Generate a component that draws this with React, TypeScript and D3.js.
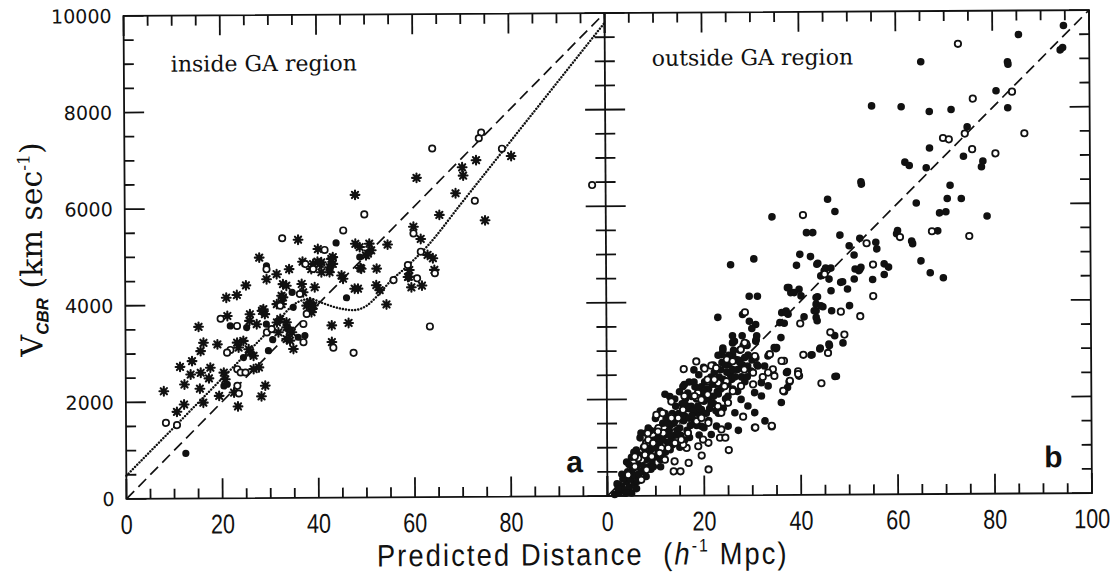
import React from "react";
import * as d3 from "d3";

type P = [number, number];

// ---------- Panel a : inside GA region ----------
const aStars: P[] = [
  [80.4,7051],[73.1,6969],[70.2,6824],[70.4,6652],[60.7,6611],[68.8,6287],[65.4,5841],[74.9,5723],[47.9,6266],
  [60.0,5599],[61.5,5345],[62.9,5014],[64.0,4944],[36.0,5345],[40.1,5150],[47.9,5254],[48.8,5185],[50.8,5254],
  [51.2,5117],[50.1,5014],[50.5,5049],[54.6,5233],[27.9,4979],[43.2,4979],[36.9,4890],[40.0,4890],
  [64.3,4704],[59.1,4704],[59.0,4566],[59.5,4345],[52.3,4737],[48.9,4752],[52.2,4394],[52.9,4291],[54.3,3994],
  [47.7,4324],[48.4,4324],[45.0,4600],[45.3,4531],[42.9,4944],[43.2,4840],[39.1,4840],[40.8,4875],[42.9,3568],
  [46.4,3615],[42.9,3223],[34.9,3084],[42.5,4772],[42.5,4669],[49.1,4737],[33.5,4394],
  [29.4,4531],[31.5,4634],[34.1,4737],[38.7,4737],[40.5,4840],[40.8,4669],[25.1,4407],[21.0,4153],[23.2,4208],
  [32.8,4428],[36.7,4428],[37.0,4256],[39.4,4359],[32.8,4153],[31.5,4014],[32.5,4014],[38.4,4049],[37.7,3980],
  [38.9,3911],[28.7,3911],[38.7,3843],[25.9,3808],[28.4,3878],[29.0,3808],[21.2,3775],[25.8,3671],[27.3,3601],
  [15.2,3554],[16.2,3223],[15.6,3051],[19.1,3188],[31.5,3636],[31.8,3430],[33.5,3533],[34.6,3430],[33.5,3291],
  [34.2,3257],[23.2,3223],[23.5,3120],[24.5,3257],[25.9,3016],[26.6,2948],[25.6,3084],[13.8,2845],[11.3,2727],
  [13.5,2568],[15.6,2603],[17.3,2486],[17.6,2706],[20.4,2603],[20.7,2465],[26.6,2672],[27.7,2706],[22.5,2190],
  [15.4,2273],[12.2,2362],[16.1,1983],[12.1,1948],[19.4,2122],[23.3,1901],[28.2,2107],[29.0,2328],[7.9,2225],
  [10.6,1797],[32.5,4187],[32.2,3705],[33.5,3636],[34.2,3464],[39.1,3981],[58.8,4560],[61.7,4380]
];
const aOpen: P[] = [
  [74.2,7541],[73.7,7423],[64.0,7217],[78.5,7204],[72.8,6130],[49.8,5861],[60.0,5460],[61.5,5082],[45.4,5531],
  [32.7,5378],[41.5,5130],[97.2,6440],[64.4,4634],[58.8,4808],[60.7,4531],[55.8,4497],[43.2,3105],[47.4,2996],
  [63.3,3533],[37.0,3601],[37.7,3808],[37.0,3223],[37.5,4840],[39.1,4737],[29.4,4737],[36.3,4221],[32.2,3980],
  [19.8,3719],[23.2,3568],[29.4,3430],[30.4,3498],[21.8,3072],[21.1,3016],[23.2,2672],[23.9,2603],[24.9,2603],
  [23.2,2328],[23.5,2169],[8.3,1570],[10.6,1522]
];
const aFilled: P[] = [
  [12.4,936],[43.9,5274],[48.8,4979],[46.0,4138],[29.4,4808],[34.9,3946],[34.7,4256],[21.8,3568],[25.2,3533],
  [29.3,3601],[30.6,3278],[37.3,3361],[24.5,2913],[20.4,2328],[21.1,2362],[35.9,3326],[29.7,3051]
];
const dottedCurve: P[] = [
  [0,480],[10,1480],[20,2480],[30,3480],[36,4060],[38.5,4120],[41,4030],[44.5,3920],[47.4,3880],[50,3960],
  [52.5,4180],[55,4460],[58.4,4760],[62.9,5200],[70,6080],[80,7320],[90,8560],[100,9800]
];
const hubbleLine: P[] = [[0,0],[100,10000]];

// ---------- Panel b : outside GA region ----------
const bFilled: P[] = [
  [94.7,9683],[85.4,9504],[94.0,9179],[94.5,9229],[65.2,8952],[83.1,8939],[83.2,8890],[55.0,8043],[61.1,8022],
  [66.9,7919],[71.4,7960],[80.7,8340],[83.1,7989],[74.7,7597],[66.9,7163],[61.8,6874],[62.7,6803],[66.2,6756],
  [73.9,6989],[77.9,6886],[77.6,6770],[52.8,6425],[52.7,6473],[71.1,6390],[64.1,6026],[70.5,6115],[73.4,6115],
  [68.9,5820],[70.2,5841],[78.7,5750],[60.2,5460],[60.0,5392],[68.5,5448],[63.1,5241],[63.3,5186],[55.7,5221],
  [55.9,5082],[57.4,4772],[58.3,4704],[52.6,4704],[55.0,4449],[57.4,4552],[65.0,4828],[66.9,4580],[69.6,4477],
  [34.3,5758],[45.8,6115],[47.3,5861],[41.4,5427],[42.7,5427],[48.3,5372],[52.4,5303],[50.2,5151],[40.0,4979],
  [42.2,4931],[51.2,4958],[30.5,4890],[25.7,4772],[39.3,4752],[43.7,4793],[45.3,4690],[46.4,4690],[51.4,4669],
  [52.4,4669],[48.8,4407],[49.8,4256],[46.4,4221],[43.6,4097],[37.7,4291],[38.1,4188],[39.8,4256],[40.2,4118],
  [29.5,4118],[31.2,4118],[43.3,3946],[43.3,3808],[44.7,3891],[46.5,3808],[50.2,3911],[23.0,3684],[28.1,3740],
  [29.5,3601],[30.8,3533],[37.1,3808],[37.5,3740],[35.8,3568],[36.7,3554],[40.8,3684],[36.0,3258],[30.8,3188],
  [26.0,3154],[24.0,3051],[23.7,2913],[35.0,3030],[44.1,3037],[45.9,3120],[48.8,3140],[42.4,2899],[37.2,2535],
  [47.1,2444],[36.0,1915],[47.4,2452],[27.1,1343],[32.6,1535],
  [43.5,4772],[45.0,4634],[44.3,4531],[46.0,4463],[48.4,4394],[51.2,4463],[52.2,4634],[37.4,4291],[38.8,4188],
  [43.3,4084],[43.3,3671],[43.5,3601],[42.9,3808],[44.3,3911],[47.1,3291],[46.0,3085],[44.0,3016],[36.2,3775],
  [37.1,3775],[34.6,3051],[32.6,2672],[33.3,2878],[31.2,2672],[30.8,2845],[37.3,2225],[37.1,2535],[42.2,2892],
  [26.1,3168],[30.9,3223],[35.1,3051],[37.3,2555],[26.4,3188],[26.0,2913],[26.7,2810],
  [15.7,2259],[16.7,2122],[17.4,1845],[18.4,1708],[19.5,1777],[29.1,2672],[29.8,2568],[31.9,2328],[33.3,2259],
  [30.5,2122],[31.9,2052],[27.7,1983],[29.1,1845],[30.5,1708],[26.4,1708],[25.0,1432],[22.6,1432],[21.5,1260],
  [19.5,1432],
  // dense core near the origin
  [1.5,30],[2.5,80],[3,200],[3.5,120],[4,300],[4.5,180],[3.2,350],[2,250],[5,60],[4.2,500],[5.5,260],[5,420],
  [6,600],[6.5,850],[7,500],[7.5,1000],[8,750],[8.5,600],[9,950],[9.5,1150],[6.8,1200],[10,800],[8,1300],
  [10.5,1200],[11,1000],[11.5,1500],[12,1300],[12.5,1100],[13,1450],[13.5,1700],[11,1750],[14,1250],[12,900],[13,950],
  [14.5,1600],[15,1400],[15.5,1900],[16,1650],[16.5,1350],[17,1800],[17.5,2050],[15,2150],[18,1550],[16,1150],[17,1200],
  [18.5,2000],[19,1800],[19.5,2250],[20,1950],[20.5,1700],[21,2200],[21.5,2450],[19,2500],[22,1900],[20,1400],
  [22.5,2300],[23,2100],[23.5,2600],[24,2400],[24.5,2000],[25,2700],[25.5,2500],[23,2900],[26,2200],
  [26.5,2800],[27,2600],[27.5,3000],[28,2700],[29,3100],[30,2800],[31,3300],[28.5,2350],[30,3450],
  [2.2,150],[3.8,60],[4.8,350],[5.2,550],[5.8,420],[6.2,300],[6.6,700],[7.2,650],[7.8,880],[8.2,1050],[8.8,820],
  [9.2,700],[9.8,1000],[10.2,1350],[10.8,1100],[11.2,850],[11.8,1250],[12.2,1600],[12.8,1350],[13.2,1150],
  [13.8,1500],[14.2,1850],[14.8,1700],[15.2,1250],[15.8,1550],[16.2,2000],[16.8,1800],[17.2,1450],[17.8,1750],
  [18.2,2250],[18.8,1850],[19.2,1650],[19.8,2100],[20.2,2350],[20.8,2000],[21.2,1800],[21.8,2300],[22.2,2550],
  [22.8,2150],[23.2,2450],[23.8,2750],[24.2,2250],[24.8,2550],[25.2,2900],[25.8,2400],[26.2,3000],[27.2,2800],
  [27.8,2450],[28.2,3100],[29.2,2900],[13,2050],[11,600],[9,1350],[17,2350],[21,1550],[25,2050],[7,1300],[5,800],
  [3,450],[4,700],[6,950],[8,1100],[10,1150],[12,1700],[14,2000],[16,2300],[18,2350],[20,2650],[22,2700],
  [24,3000],[26,3300],[9,550],[11,750],[13,1250],[15,1000],[17,1600],[19,1250],[21,2000],[23,1700],[25,2300],
  [27,2150],[29,2450],[31,2700],
  [4.5,650],[5.5,900],[6.5,450],[7.5,750],[8.5,1400],[9.5,600],[10.5,900],[11.5,1150],[12.5,1500],[13.5,1050],
  [14.5,1350],[15.5,1650],[16.5,1850],[17.5,1650],[18.5,1450],[19.5,2000],[20.5,2200],[21.5,1900],[22.5,1750],
  [23.5,2200],[24.5,2700],[25.5,2750],[26.5,2450],[27.5,2750],[28.5,2850],[6,150],[8,400],[10,1600],[12,2100],
  [14,1550],[16,1900],[18,2600],[20,2150],[22,2050],[24,1800],[26,2600],[28,3300]
];
const bOpen: P[] = [
  [72.9,9318],[75.9,8181],[84.0,8320],[86.5,7458],[69.7,7370],[70.9,7341],[74.2,7458],[75.7,7135],[80.5,7045],
  [53.8,5200],[60.7,5324],[67.3,5440],[75.0,5337],[55.1,4758],[55.1,4105],[40.7,5792],[45.1,4566],[48.4,3787],
  [52.4,3691],[40.0,3547],[46.2,3361],[49.1,3312],[45.7,2934],[40.6,2899],[36.6,2775],[33.6,2913],[39.5,2556],
  [39.7,2465],[37.7,2341],[36.6,2142],[44.3,2307],[28.8,3140],[32.2,2444],[34.3,2603],[34.0,1419],[30.5,1398],
  [28.6,3787],[18.5,2775],[15.9,2617],[20.2,2624],[21.6,2686],[22.6,2638],[10.2,1673],[10.6,1399],[13.3,1948],
  [15.7,1777],[20.9,537],[16.8,675],[15.1,502],[13.7,502],[19.5,826],[25.1,936],[23.3,1192],[24.4,1192],
  [20.9,2362],[23.0,2328],[24.7,2362],[28.5,3154],[30.6,2878],[33.7,2913],[36.1,2775],[37.8,2362],[36.4,2155],
  [39.5,2500],[30.6,1399],[34.0,1432],[28.1,1625],[4.3,434],[7.1,744],[6.4,779],[5.7,606],[8.1,537],[7.8,847],
  [9.2,812],[8.1,1089],[8.5,1157],[11.2,985],[18.5,1535],[19.5,1605],[16.4,985],[20.9,1089],[13.3,1638],
  [14.7,1605],[14.0,1089],[15.7,1054],[11.6,1295],[18.8,2122],[18.8,2018],[16.0,2060],[18.1,2060],[20.8,2397],
  [22.2,2397],[24.3,2259],[25.0,1915],[23.6,1364],[7.7,1019],[9.5,1089],[5.7,812],[7.0,331],[10.8,882],
  [12.6,985],[11.9,744],[13.9,709],[15.3,1157],[16.7,1295],[18.8,1019],[19.8,1157],[22.9,1845],[23.6,1708],
  [20.9,1502],[11.5,1708],[13.3,1605],[8.4,1295],[10.5,1329],[19.5,1983],[20.8,2087],[26.0,2155],[27.7,2259],
  [30.2,2293],[30.2,2535],[28.4,2603],[34.6,2465],[33.3,2535],[27.7,3016],[24.8,2810],[26.0,2775]
];

const xMajorA = [0, 20, 40, 60, 80];
const xMajorB = [0, 20, 40, 60, 80, 100];
const yMajor = [0, 2000, 4000, 6000, 8000, 10000];
const xMinor = d3.range(0, 101, 5);
const yMinor = d3.range(0, 10001, 500);

const INK = "#111";

function starPath(cx: number, cy: number, r: number) {
  let s = "";
  for (let k = 0; k < 4; k++) {
    const a = (k * Math.PI) / 4;
    const dx = r * Math.cos(a), dy = r * Math.sin(a);
    s += `M${cx - dx},${cy - dy}L${cx + dx},${cy + dy}`;
  }
  return s;
}

export default function App() {
  const W = 1120, H = 573;
  const top = 13, bottom = 496, left = 125, mid = 606, right = 1090.5;
  const xa = d3.scaleLinear().domain([0, 100]).range([left, mid]);
  const xb = d3.scaleLinear().domain([0, 100]).range([mid, right]);
  const y = d3.scaleLinear().domain([0, 10000]).range([bottom, top]);
  const major = 20, minor = 10;

  const lineA = d3.line<P>().x(d => xa(d[0])).y(d => y(d[1]));
  const curveA = d3.line<P>().x(d => xa(d[0])).y(d => y(d[1])).curve(d3.curveMonotoneX);
  const lineB = d3.line<P>().x(d => xb(d[0])).y(d => y(d[1]));

  const ticks: JSX.Element[] = [];
  const addX = (sc: d3.ScaleLinear<number, number>, key: string) => {
    xMinor.forEach(v => {
      const L = v % 20 === 0 ? major : minor;
      const x = sc(v);
      ticks.push(<line key={`${key}b${v}`} x1={x} x2={x} y1={bottom} y2={bottom - L} />);
      ticks.push(<line key={`${key}t${v}`} x1={x} x2={x} y1={top} y2={top + L} />);
    });
  };
  addX(xa, "a");
  addX(xb, "b");
  yMinor.forEach(v => {
    const L = v % 2000 === 0 ? major : minor;
    const yy = y(v);
    ticks.push(<line key={`yl${v}`} x1={left} x2={left + L} y1={yy} y2={yy} />);
    ticks.push(<line key={`ym${v}`} x1={mid - L} x2={mid + L} y1={yy} y2={yy} />);
    ticks.push(<line key={`yr${v}`} x1={right - L} x2={right} y1={yy} y2={yy} />);
  });

  return (
    <svg width={W} height={H} style={{ position: "absolute", left: 0, top: 0, background: "#fff" }}>
      <rect x={0} y={0} width={W} height={H} fill="#fff" />
      <g transform={`rotate(-0.35 608 254.5)`}>
        {/* frames */}
        <g stroke={INK} strokeWidth={1.8} fill="none">
          <rect x={left} y={top} width={right - left} height={bottom - top} />
          <line x1={mid} x2={mid} y1={top} y2={bottom} />
          {ticks}
        </g>

        {/* panel a lines */}
        <path d={lineA(hubbleLine) || ""} fill="none" stroke={INK} strokeWidth={1.7} strokeDasharray="11 6" />
        <path d={curveA(dottedCurve) || ""} fill="none" stroke={INK} strokeWidth={2.4}
          strokeDasharray="0.1 3" strokeLinecap="round" />
        {/* panel b line */}
        <path d={lineB(hubbleLine) || ""} fill="none" stroke={INK} strokeWidth={1.7} strokeDasharray="11 6" />

        {/* panel a points */}
        <g fill={INK}>
          {aFilled.map((d, i) => <circle key={`af${i}`} cx={xa(d[0])} cy={y(d[1])} r={3.6} />)}
        </g>
        <g stroke={INK} strokeWidth={2.1} strokeLinecap="round" fill="none">
          {aStars.map((d, i) => <path key={`as${i}`} d={starPath(xa(d[0]), y(d[1]), 4.4)} />)}
        </g>
        <g fill={INK}>
          {aStars.map((d, i) => <circle key={`asc${i}`} cx={xa(d[0])} cy={y(d[1])} r={2.3} />)}
        </g>
        <g fill="#fff" stroke={INK} strokeWidth={1.7}>
          {aOpen.map((d, i) => <circle key={`ao${i}`} cx={xa(d[0])} cy={y(d[1])} r={3.2} />)}
        </g>

        {/* panel b points */}
        <g fill={INK}>
          {bFilled.map((d, i) => <circle key={`bf${i}`} cx={xb(d[0])} cy={y(d[1])} r={3.8} />)}
        </g>
        <g fill="#fff" stroke={INK} strokeWidth={1.8}>
          {bOpen.map((d, i) => <circle key={`bo${i}`} cx={xb(d[0])} cy={y(d[1])} r={3.2} />)}
        </g>

        {/* panel texts */}
        <text x={172} y={69} fontFamily="DejaVu Serif" fontSize={22} fill={INK}>inside GA region</text>
        <text x={653} y={66} fontFamily="DejaVu Serif" fontSize={22} fill={INK}>outside GA region</text>
        <text x={565} y={472} fontFamily="Liberation Sans" fontWeight="bold" fontSize={30} fill={INK}>a</text>
        <text x={1043} y={470} fontFamily="Liberation Sans" fontWeight="bold" fontSize={30} fill={INK}>b</text>

        {/* y tick labels */}
        {yMajor.map(v => (
          <text key={`yl${v}`} x={113} y={y(v) + 7} textAnchor="end" fontFamily="DejaVu Sans" fontSize={19} fill={INK}>{v}</text>
        ))}
        {/* x tick labels */}
        {xMajorA.map(v => (
          <g key={`xa${v}`} transform={`translate(${xa(v)},531) scale(0.8,1)`}>
            <text textAnchor="middle" fontFamily="Liberation Sans" fontSize={27} fill={INK}>{v}</text>
          </g>
        ))}
        {xMajorB.map(v => (
          <g key={`xb${v}`} transform={`translate(${xb(v)},531) scale(0.8,1)`}>
            <text textAnchor="middle" fontFamily="Liberation Sans" fontSize={27} fill={INK}>{v}</text>
          </g>
        ))}

        {/* axis titles */}
        <g transform="translate(581,565) scale(0.88,1)">
          <text textAnchor="middle" fontFamily="Liberation Sans" fontSize={31} letterSpacing={2.4} fill={INK}>
            Predicted Distance{"\u00a0\u00a0"}(<tspan fontStyle="italic">h</tspan><tspan fontSize={18} dy={-13}>-1</tspan><tspan dy={13}>{"\u00a0"}Mpc)</tspan>
          </text>
        </g>
        <text transform="translate(42,246) rotate(-90)" textAnchor="middle" fontFamily="DejaVu Serif" fontSize={30} fill={INK}>
          V<tspan fontFamily="Liberation Sans" fontStyle="italic" fontWeight="bold" fontSize={17} dy={6}>CBR</tspan><tspan dy={-6}>{"\u00a0"}(km sec</tspan><tspan fontSize={17} dy={-12}>-1</tspan><tspan dy={12}>)</tspan>
        </text>
      </g>
    </svg>
  );
}
